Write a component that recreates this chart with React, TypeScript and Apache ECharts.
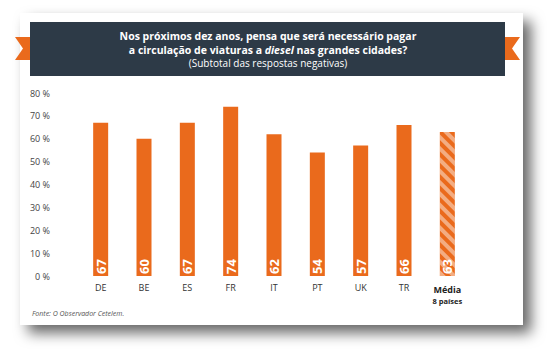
import React, { useEffect, useRef } from 'react';
import * as echarts from 'echarts';

const categories = ['DE', 'BE', 'ES', 'FR', 'IT', 'PT', 'UK', 'TR', 'Média'];
const values = [67, 60, 67, 74, 62, 54, 57, 66, 63];
const averageSubLabel = '8 países';
const yMin = 0;
const yMax = 80;
const yStep = 10;
const titleLine1 = 'Nos próximos dez anos, pensa que será necessário pagar';
const titleLine2Parts = ['a circulação de viaturas a ', 'diesel', ' nas grandes cidades?'];
const subtitle = '(Subtotal das respostas negativas)';
const source = 'Fonte: O Observador Cetelem.';

const ORANGE = '#EA6A1C';
const NAVY = '#2D3A47';
const FONT = '"Open Sans", "Noto Sans", sans-serif';

export default function App() {
  const ref = useRef<HTMLDivElement>(null);
  useEffect(() => {
    if (!ref.current) return;
    const chart = echarts.init(ref.current, null, { renderer: 'svg' });
    const lastIdx = categories.length - 1;
    chart.setOption({
      animation: false,
      backgroundColor: '#ffffff',
      graphic: [
        {
          type: 'rect',
          z: -10,
          shape: { x: 20, y: 13, width: 503, height: 312 },
          style: {
            fill: '#ffffff',
            shadowBlur: 14,
            shadowOffsetX: 8,
            shadowOffsetY: 8,
            shadowColor: 'rgba(0,0,0,0.6)',
          },
        },
        {
          type: 'polygon',
          z: -5,
          shape: { points: [[15, 37], [32, 37], [32, 60], [15, 60], [23, 48.5]] },
          style: { fill: ORANGE },
        },
        {
          type: 'polygon',
          z: -5,
          shape: { points: [[520, 37], [503, 37], [503, 60], [520, 60], [512, 48.5]] },
          style: { fill: ORANGE },
        },
        {
          type: 'rect',
          z: -4,
          shape: { x: 30, y: 22, width: 475, height: 54 },
          style: { fill: NAVY },
        },
        {
          type: 'text',
          z: -3,
          x: 268,
          y: 36,
          style: {
            text: titleLine1,
            fill: '#fff',
            font: `bold 10.5px ${FONT}`,
            align: 'center',
            verticalAlign: 'middle',
          },
        },
        {
          type: 'text',
          z: -3,
          x: 268,
          y: 50,
          style: {
            text: `{b|${titleLine2Parts[0]}}{i|${titleLine2Parts[1]}}{b|${titleLine2Parts[2]}}`,
            align: 'center',
            verticalAlign: 'middle',
            rich: {
              b: { fill: '#fff', color: '#fff', fontWeight: 'bold', fontSize: 10.5, fontFamily: FONT },
              i: { fill: '#fff', color: '#fff', fontWeight: 'bold', fontStyle: 'italic', fontSize: 10.5, fontFamily: FONT },
            },
          },
        },
        {
          type: 'text',
          z: -3,
          x: 268,
          y: 63,
          style: {
            text: subtitle,
            fill: '#fff',
            font: `10px ${FONT}`,
            align: 'center',
            verticalAlign: 'middle',
          },
        },
        {
          type: 'text',
          z: -3,
          x: 32,
          y: 313,
          style: {
            text: source,
            fill: '#555',
            font: `italic 7px ${FONT}`,
            align: 'left',
            verticalAlign: 'middle',
          },
        },
      ],
      grid: { left: 79, right: 89, top: 93, bottom: 83 },
      xAxis: {
        type: 'category',
        data: categories,
        axisLine: { show: false },
        axisTick: { show: false },
        axisLabel: {
          margin: 7,
          color: '#333',
          fontSize: 9,
          fontFamily: FONT,
          interval: 0,
          formatter: (v: string, i: number) =>
            i === lastIdx ? `{b|${v}}\n{s|${averageSubLabel}}` : v,
          rich: {
            b: { fontWeight: 'bold', fontSize: 9, color: '#222', fontFamily: FONT, lineHeight: 12 },
            s: { fontWeight: 'bold', fontSize: 7.5, color: '#222', fontFamily: FONT, lineHeight: 11 },
          },
        },
      },
      yAxis: {
        type: 'value',
        min: yMin,
        max: yMax,
        interval: yStep,
        splitLine: { show: false },
        axisLine: { show: false },
        axisTick: { show: false },
        axisLabel: {
          margin: 29,
          color: '#444',
          fontSize: 9,
          fontFamily: FONT,
          formatter: '{value} %',
        },
      },
      series: [
        {
          type: 'bar',
          barWidth: 15,
          data: values.map((v, i) =>
            i === lastIdx
              ? {
                  value: v,
                  itemStyle: {
                    color: ORANGE,
                    decal: {
                      symbol: 'rect',
                      symbolSize: 1,
                      color: 'rgba(255,255,255,0.45)',
                      dashArrayX: [1, 0],
                      dashArrayY: [3.5, 3.5],
                      rotation: Math.PI / 4,
                    },
                  },
                }
              : v
          ),
          itemStyle: { color: ORANGE },
          label: {
            show: true,
            position: 'insideBottom',
            rotate: 90,
            align: 'left',
            verticalAlign: 'middle',
            distance: 2,
            color: '#fff',
            fontWeight: 'bold',
            fontSize: 13,
            fontFamily: FONT,
          },
        },
      ],
    });
    return () => chart.dispose();
  }, []);
  return (
    <div
      ref={ref}
      style={{ position: 'fixed', left: 0, top: 0, width: 558, height: 359 }}
    />
  );
}
